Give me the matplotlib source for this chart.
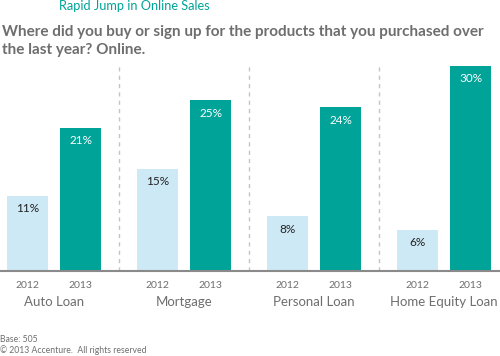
import numpy as np
import matplotlib.pyplot as plt
from matplotlib.transforms import blended_transform_factory

# ==================== DATA ====================
categories = ['Auto Loan', 'Mortgage', 'Personal Loan', 'Home Equity Loan']
years = ['2012', '2013']
values_2012 = [11, 15, 8, 6]
values_2013 = [21, 25, 24, 30]

LIGHT = '#cde9f5'
TEAL = '#00a398'
GREY = '#6e6e6e'

plt.rcParams['font.family'] = ['Lato', 'DejaVu Sans']

W, H = 500, 356
fig = plt.figure(figsize=(W / 100, H / 100), dpi=100)
ax = fig.add_axes([0, (H - 271) / H, 1.0, 205 / H])

x = np.arange(len(categories))
off, width = 0.204, 0.31
b1 = ax.bar(x - off, values_2012, width, color=LIGHT)
b2 = ax.bar(x + off, values_2013, width, color=TEAL)

# value labels inside bar tops
for bars, vals, col in [(b1, values_2012, '#222222'), (b2, values_2013, 'white')]:
    for rect, v in zip(bars, vals):
        ax.annotate(f'{v}%', (rect.get_x() + rect.get_width() / 2, v),
                    xytext=(0, -13), textcoords='offset pixels',
                    ha='center', va='center', fontsize=8.5, color=col)

# dashed group separators
for sep in x[:-1] + 0.5:
    ax.axvline(sep, color='#c4c4c4', lw=1, ls=(0, (3, 3)))

ax.set_xlim(-54 / 130, (500 - 54) / 130)
ax.set_ylim(0, 30)

ticks = np.concatenate([x - off, x + off])
ax.set_xticks(ticks)
ax.set_xticklabels([years[0]] * len(x) + [years[1]] * len(x), fontsize=7.5, color=GREY)
ax.tick_params(axis='x', length=0, pad=7)
ax.set_yticks([])
for s in ['top', 'left', 'right']:
    ax.spines[s].set_visible(False)
ax.spines['bottom'].set_color('#8a8a8a')
ax.spines['bottom'].set_linewidth(1.5)

trans = blended_transform_factory(ax.transData, fig.transFigure)
for xi, name in zip(x, categories):
    ax.text(xi, 1 - 302 / H, name, transform=trans, ha='center', va='center',
            fontsize=9.5, color=GREY)

# titles
fig.text(59 / W, 1 - 6 / H, 'Rapid Jump in Online Sales', fontsize=9.2,
         color=TEAL, va='center', ha='left')
fig.text(2 / W, 1 - 32 / H,
         'Where did you buy or sign up for the products that you purchased over',
         fontsize=11, color=GREY, fontweight='bold', va='center', ha='left')
fig.text(2 / W, 1 - 50 / H, 'the last year? Online.',
         fontsize=11, color=GREY, fontweight='bold', va='center', ha='left')

# footer
fig.text(0, 1 - 339 / H, 'Base: 505', fontsize=6.2, color=GREY, va='center')
fig.text(0, 1 - 350 / H, '\u00a9 2013 Accenture.  All rights reserved',
         fontsize=6.2, color=GREY, va='center')

fig.savefig('out.png', dpi=100)
